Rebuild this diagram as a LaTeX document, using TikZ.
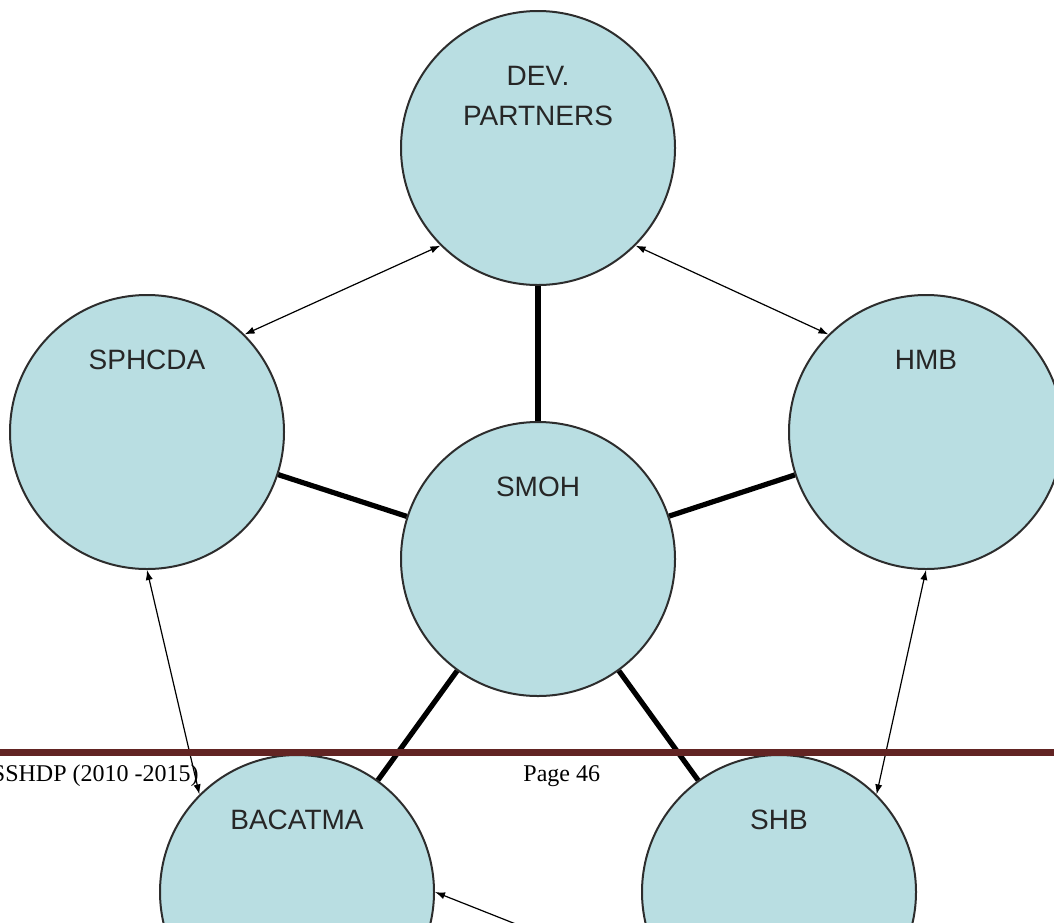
\documentclass[tikz,border=0pt]{standalone}
\usepackage{fontspec}
\setmainfont{Liberation Serif}
\newfontfamily\diagfont{Liberation Sans}
\usetikzlibrary{arrows.meta}
\usetikzlibrary{positioning}
\definecolor{nodeblue}{RGB}{185,222,226}
\definecolor{rimgrey}{RGB}{45,45,45}
\definecolor{footred}{RGB}{98,36,35}
\tikzset{body/.style = {circle, draw=rimgrey, line width=1pt, fill=nodeblue,
                        minimum size=137pt, inner sep=0pt},
         tag/.style = {font={\diagfont\fontsize{14}{20}\selectfont}, text=black!85,
                       align=center, inner sep=0pt},
         spoke/.style = {line width=2.6pt},
         link/.style = {line width=0.6pt, >={Latex[length=5pt,width=3.6pt]}},
         foot/.style = {font={\fontsize{12}{14}\selectfont}, inner sep=0pt}}

\begin{document}
\begin{tikzpicture}[x=0.5pt, y=-0.5pt]
    \useasboundingbox (0, 0) rectangle (1054, 922);
    \clip (0, 0) rectangle (1054, 922);

    \node [body] (dev) at (538, 148) {};
    \node [body] (sphcda) at (147, 432) {};
    \node [body] (hmb) at (926, 432) {};
    \node [body] (smoh) at (538, 559) {};
    \node [body] (bacatma) at (297, 892) {};
    \node [body] (shb) at (779, 892) {};

    \node [tag, below=28pt of dev.north] (dev-t) {DEV.\\PARTNERS};
    \node [tag, below=28pt of sphcda.north] (sphcda-t) {SPHCDA};
    \node [tag, below=28pt of hmb.north] (hmb-t) {HMB};
    \node [tag, below=28pt of smoh.north] (smoh-t) {SMOH};
    \node [tag, below=28pt of bacatma.north] (bacatma-t) {BACATMA};
    \node [tag, below=28pt of shb.north] (shb-t) {SHB};

    % SMOH in the middle
    \draw [spoke] (smoh) -- (dev);
    \draw [spoke] (smoh) -- (sphcda);
    \draw [spoke] (smoh) -- (hmb);
    \draw [spoke] (smoh) -- (bacatma);
    \draw [spoke] (smoh) -- (shb);

    \draw [link, <->] (sphcda.45) -- (dev.225);
    \draw [link, <->] (dev.315) -- (hmb.135);
    \draw [link, <->] (sphcda.south) -- (bacatma.135);
    \draw [link, <->] (hmb.south) -- (shb.45);
    \draw [link, ->] (shb.225) -- (bacatma.east);

    % page footer
    \draw [footred, line width=3.5pt] (0, 752) -- (1054, 752);
    \node [foot, anchor=base east] (foot-l) at (199, 781) {SSHDP (2010 -2015)};
    \node [foot, anchor=base west] (foot-r) at (523, 781) {Page 46};
\end{tikzpicture}
\end{document}
